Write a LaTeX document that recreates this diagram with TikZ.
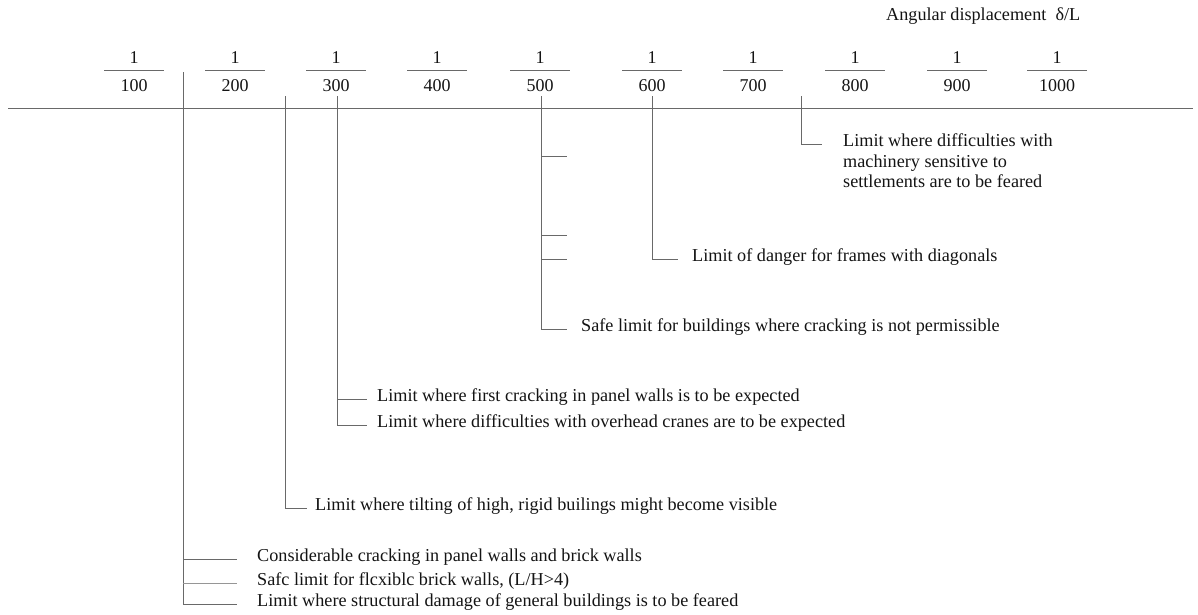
\documentclass[tikz,border=0pt]{standalone}
\usepackage{fontspec}
\setmainfont{Liberation Serif}
\definecolor{linegray}{RGB}{105,105,105}
\definecolor{txt}{RGB}{20,20,20}
\begin{document}
\begin{tikzpicture}[x=1pt,y=-1pt,
  ln/.style={draw=linegray,line width=1pt},
  thin ln/.style={draw=linegray!70,line width=0.7pt},
  lbl/.style={anchor=west,inner sep=0pt,text=txt,font=\fontsize{18.2}{21}\selectfont,text height=0.7em,text depth=0.14em},
  num/.style={anchor=base,inner sep=0pt,text=txt,font=\fontsize{18}{20}\selectfont}]
\useasboundingbox (0,0) rectangle (1198,614);

% title
\node[anchor=base west,inner sep=0pt,text=txt,font=\fontsize{18.2}{20}\selectfont] (title) at (886,20) {Angular displacement\ \ δ/L};

% fractions
\foreach \c/\d in {134/100,235/200,336/300,437/400,540/500,652/600,753/700,855/800,957/900,1057/1000}{
  \node[num] (n\d) at (\c,63) {1};
  \node[num] (d\d) at (\c,91) {\d};
  \draw[ln] (\c-30,70) -- (\c+30,70);
}

% axis
\coordinate (axl) at (8,108);
\coordinate (axr) at (1193,108);
\draw[ln] (axl) -- (axr);

% line A
\coordinate (A) at (183,72);
\node[lbl] (tA1) at (257,559) {Considerable cracking in panel walls and brick walls};
\node[lbl] (tA2) at (257,583) {Safc limit for flcxiblc brick walls, (L/H>4)};
\node[lbl] (tA3) at (257,604) {Limit where structural damage of general buildings is to be feared};
\draw[ln] (A) |- ([xshift=-20pt]tA3.west);
\draw[ln] (A |- tA1.west) -- ([xshift=-20pt]tA1.west);
\draw[thin ln] (A |- tA2.west) -- ([xshift=-20pt]tA2.west);

% line B
\coordinate (B) at (285,96);
\node[lbl] (tB) at (315,508) {Limit where tilting of high, rigid builings might become visible};
\draw[ln] (B) |- ([xshift=-8pt]tB.west);

% line C
\coordinate (C) at (337,96);
\node[lbl] (tC1) at (377,399) {Limit where first cracking in panel walls is to be expected};
\node[lbl] (tC2) at (377,425) {Limit where difficulties with overhead cranes are to be expected};
\draw[ln] (C) |- ([xshift=-10pt]tC2.west);
\draw[ln] (C |- tC1.west) -- ([xshift=-10pt]tC1.west);

% line D
\coordinate (D) at (541,96);
\coordinate (d1) at (567,156);
\coordinate (d2) at (567,235);
\coordinate (d3) at (567,259);
\node[lbl] (tD) at (581,329) {Safe limit for buildings where cracking is not permissible};
\draw[ln] (D) |- ([xshift=-14pt]tD.west);
\draw[ln] (D |- d1) -- (d1);
\draw[ln] (D |- d2) -- (d2);
\draw[ln] (D |- d3) -- (d3);

% line E
\coordinate (E) at (652,96);
\node[lbl] (tE) at (692,259) {Limit of danger for frames with diagonals};
\draw[ln] (E) |- ([xshift=-14pt]tE.west);

% line F
\coordinate (F) at (801,96);
\node[lbl] (tF1) at (843,144) {Limit where difficulties with};
\node[lbl] (tF2) at (843,164.5) {machinery sensitive to};
\node[lbl] (tF3) at (843,185) {settlements are to be feared};
\draw[ln] (F) |- ([xshift=-21pt]tF1.west);
\end{tikzpicture}
\end{document}
